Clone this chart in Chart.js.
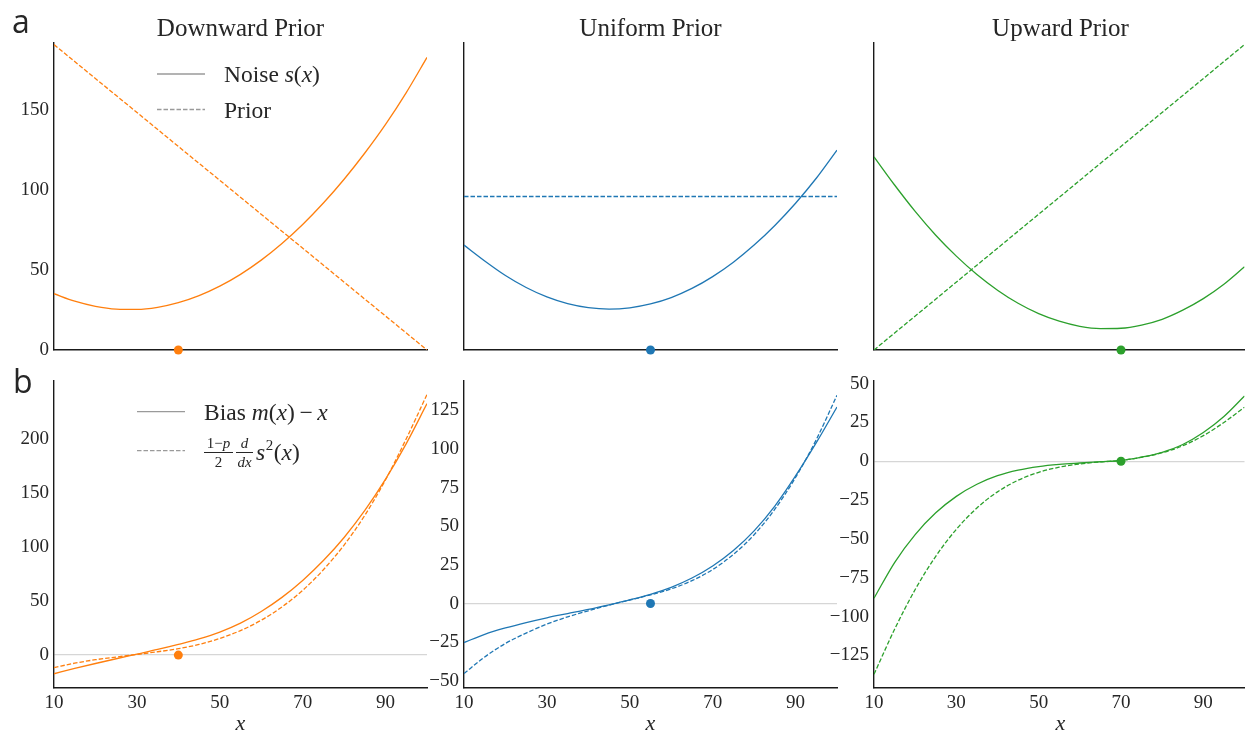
<!DOCTYPE html>
<html>
<head>
<meta charset="utf-8">
<title>Prior / noise / bias panels</title>
<script src="https://cdn.jsdelivr.net/npm/chart.js@4.4.1/dist/chart.umd.min.js"></script>
<style>
  html, body { margin: 0; padding: 0; background: #fff; }
  #wrap { position: relative; width: 1249px; height: 732px; overflow: hidden; }
  #wrap canvas { position: absolute; left: 0; top: 0; }
</style>
</head>
<body>
<div id="wrap">
  <canvas id="p0" width="1249" height="732"></canvas>
  <canvas id="p1" width="1249" height="732"></canvas>
  <canvas id="p2" width="1249" height="732"></canvas>
  <canvas id="p3" width="1249" height="732"></canvas>
  <canvas id="p4" width="1249" height="732"></canvas>
  <canvas id="p5" width="1249" height="732"></canvas>
</div>
<script>
/**************************************************
 * DATA
 **************************************************/
const xs = [10, 15, 20, 25, 30, 35, 40, 45, 50, 55, 60, 65, 70, 75, 80, 85, 90, 95, 100];

// row a: noise s(x)
const noiseDown    = [35.2, 30.5, 27.3, 25.6, 25.4, 26.7, 29.6, 34.0, 39.9, 47.3, 56.2, 66.6, 78.5, 91.9, 106.8, 123.2, 141.1, 161.0, 183.0];
const noiseUniform = [65.6, 55.7, 46.6, 39.1, 33.2, 29.0, 26.5, 25.6, 26.4, 28.8, 32.8, 38.5, 45.9, 54.9, 65.6, 77.9, 91.8, 107.4, 125.0];
const noiseUp      = [120.8, 103.2, 86.7, 71.8, 58.7, 47.2, 37.4, 29.2, 22.7, 18.0, 14.8, 13.4, 13.6, 15.6, 19.2, 24.9, 32.1, 41.1, 52.0];

// row a: priors (straight lines, end points)
const priorX       = [10, 100];
const priorDown    = [191, 0];
const priorUniform = [96, 96];
const priorUp      = [0, 191];

// row b: bias m(x) - x (solid) and (1-p)/2 d/dx s^2(x) (dashed)
const biasDown    = [-17.3, -12.4, -7.8, -3.4, 0.9, 5.2, 9.9, 15.0, 21.3, 29.6, 40.4, 53.5, 69.2, 87.6, 109.0, 134.0, 163.0, 196.0, 233.0];
const slopeDown   = [-11.6, -7.5, -4.3, -1.8, 0.6, 3.1, 5.9, 9.9, 15.4, 22.7, 32.3, 44.6, 60.0, 79.1, 102.0, 129.6, 162.5, 200.5, 241.5];
const biasUniform = [-25.2, -19.9, -15.8, -12.3, -9.2, -6.5, -3.8, -0.8, 2.4, 6.0, 10.5, 16.5, 24.3, 34.3, 47.0, 63.0, 82.5, 104.0, 127.1];
const slopeUniform= [-45.3, -34.5, -25.8, -19.1, -13.3, -8.6, -4.7, -1.0, 2.3, 5.6, 9.5, 14.8, 22.0, 31.8, 44.5, 61.0, 81.5, 106.0, 134.7];
const biasUp      = [-88.2, -65.2, -47.2, -33.2, -22.6, -14.8, -9.3, -5.7, -3.4, -2.0, -1.1, -0.3, 0.5, 2.7, 5.8, 10.8, 18.5, 28.8, 42.0];
const slopeUp     = [-137.2, -108.2, -82.6, -61.2, -43.8, -30.1, -19.7, -12.2, -7.1, -3.8, -1.7, -0.4, 0.5, 2.6, 5.5, 10.0, 16.5, 25.0, 34.8];

// markers on the x axis
const dotX = [40, 55, 70];

// axis ticks / ranges
const xTicks       = [10, 30, 50, 70, 90];
const yTicksTop    = [0, 50, 100, 150];
const yTicksDown   = [0, 50, 100, 150, 200];
const yTicksUni    = [-50, -25, 0, 25, 50, 75, 100, 125];
const yTicksUp     = [-125, -100, -75, -50, -25, 0, 25, 50];
const yRangeTop    = [0, 192];
const yRangeDown   = [-30.5, 254];
const yRangeUni    = [-54.6, 143.9];
const yRangeUp     = [-146, 51.7];

const titles = ["Downward Prior", "Uniform Prior", "Upward Prior"];

/**************************************************
 * LAYOUT / STYLE
 **************************************************/
const W = 1249, H = 732;
const colLeft = [54, 464, 874];
const colRight = [427, 837, 1247];
const rowTop = [43, 381];
const rowBottom = [350, 688];
const Y_AXIS_W = 54;   // room for y tick labels left of each panel
const X_AXIS_H = 30;   // room for x tick labels under the bottom row
const colors = ["#ff7f0e", "#1f77b4", "#2ca02c"];
const SERIF = "'Liberation Serif', 'Times New Roman', serif";
const SANS = "'Open Sans', 'DejaVu Sans', sans-serif";
const INK = "#262626";
const DASH = [4.5, 2];

function fmt(v) {
  return v < 0 ? "\u2212" + Math.abs(v) : String(v);
}

function curve(px, ys, color, dashed) {
  return {
    data: px.map((x, i) => ({ x: x, y: ys[i] })),
    borderColor: color,
    borderWidth: 1.3,
    borderDash: dashed ? DASH : [],
    pointRadius: 0,
    fill: false,
    cubicInterpolationMode: "monotone",
    order: 1
  };
}

function dot(x, color) {
  return {
    data: [{ x: x, y: 0 }],
    showLine: false,
    pointRadius: 4.5,
    pointBackgroundColor: color,
    pointBorderColor: color,
    pointBorderWidth: 0,
    clip: false,
    order: 0
  };
}

/**************************************************
 * TEXT HELPERS (titles, legends, panel letters)
 **************************************************/
function runs(ctx, x, y, parts) {
  ctx.textAlign = "left";
  parts.forEach(p => {
    ctx.font = p[1];
    ctx.fillText(p[0], x, y);
    x += ctx.measureText(p[0]).width;
  });
  return x;
}

function legendLine(ctx, x1, x2, y, dashed) {
  ctx.save();
  ctx.strokeStyle = "#9a9a9a";
  ctx.lineWidth = 1.3;
  ctx.setLineDash(dashed ? DASH : []);
  ctx.beginPath();
  ctx.moveTo(x1, y);
  ctx.lineTo(x2, y);
  ctx.stroke();
  ctx.restore();
}

function centered(ctx, text, x, y, font) {
  ctx.font = font;
  ctx.textAlign = "center";
  ctx.fillText(text, x, y);
}

const up = s => s + "px " + SERIF;
const it = s => "italic " + s + "px " + SERIF;

const decor = {
  p0(ctx) {
    ctx.font = "32px " + SANS;
    ctx.textAlign = "left";
    ctx.fillText("a", 12, 33);
    legendLine(ctx, 157, 205, 74, false);
    legendLine(ctx, 157, 205, 109.5, true);
    runs(ctx, 224, 82, [["Noise ", up(23.5)], ["s", it(23.5)], ["(", up(23.5)], ["x", it(23.5)], [")", up(23.5)]]);
    runs(ctx, 224, 118, [["Prior", up(23.5)]]);
  },
  p3(ctx) {
    ctx.font = "32px " + SANS;
    ctx.textAlign = "left";
    ctx.fillText("b", 13, 393);
    legendLine(ctx, 137, 185, 411.7, false);
    legendLine(ctx, 137, 185, 450.7, true);
    runs(ctx, 204, 420, [["Bias ", up(23.5)], ["m", it(23.5)], ["(", up(23.5)], ["x", it(23.5)], [")\u2009\u2212\u2009", up(23.5)], ["x", it(23.5)]]);
    // (1-p)/2 d/dx s^2(x)
    ctx.save();
    ctx.strokeStyle = INK;
    ctx.lineWidth = 1;
    ctx.beginPath();
    ctx.moveTo(204, 452.5); ctx.lineTo(233, 452.5);
    ctx.moveTo(236, 452.5); ctx.lineTo(253, 452.5);
    ctx.stroke();
    ctx.restore();
    ctx.font = up(15);
    const w1 = ctx.measureText("1\u2212").width;
    ctx.font = it(15);
    const w2 = ctx.measureText("p").width;
    runs(ctx, 218.5 - (w1 + w2) / 2, 448, [["1\u2212", up(15)], ["p", it(15)]]);
    centered(ctx, "2", 218.5, 467, up(15));
    centered(ctx, "d", 244.5, 448, it(15));
    centered(ctx, "dx", 244.5, 467, it(15));
    let x = runs(ctx, 256, 460, [["s", it(23.5)]]);
    x = runs(ctx, x + 0.5, 450, [["2", up(15)]]);
    runs(ctx, x + 0.5, 460, [["(", up(23.5)], ["x", it(23.5)], [")", up(23.5)]]);
  }
};

const panelText = {
  id: "panelText",
  afterDraw(chart) {
    const ctx = chart.ctx;
    const id = chart.canvas.id;
    const k = Number(id.slice(1));
    const row = k < 3 ? 0 : 1, col = k % 3;
    const cx = (colLeft[col] + colRight[col]) / 2;
    ctx.save();
    ctx.fillStyle = INK;
    ctx.textBaseline = "alphabetic";
    if (row === 0) centered(ctx, titles[col], cx, 36, up(25));
    if (row === 1) {
      ctx.textBaseline = "middle";
      centered(ctx, "x", cx, 724, it(22));
      ctx.textBaseline = "alphabetic";
    }
    if (decor[id]) decor[id](ctx);
    ctx.restore();
  }
};

/**************************************************
 * PANELS
 **************************************************/
function drawPanel(k, datasets, yRange, yTicks, showY) {
  const row = k < 3 ? 0 : 1, col = k % 3;
  const xH = row === 1 ? X_AXIS_H : 0;
  const ctx = document.getElementById("p" + k).getContext("2d");
  return new Chart(ctx, {
    type: "line",
    data: { datasets: datasets },
    plugins: [panelText],
    options: {
      responsive: false,
      animation: false,
      events: [],
      devicePixelRatio: 1,
      layout: {
        padding: {
          left: colLeft[col] - Y_AXIS_W,
          right: W - colRight[col],
          top: rowTop[row],
          bottom: H - rowBottom[row] - xH
        }
      },
      plugins: { legend: { display: false }, tooltip: { enabled: false }, title: { display: false } },
      scales: {
        x: {
          type: "linear",
          min: 10,
          max: 100,
          afterFit: s => { s.height = xH; },
          afterBuildTicks: s => { s.ticks = xTicks.map(v => ({ value: v })); },
          grid: { display: false, drawTicks: false },
          border: { display: true, color: "#1a1a1a", width: 1.4 },
          ticks: {
            display: row === 1,
            autoSkip: false,
            maxRotation: 0,
            padding: 4,
            color: INK,
            font: { family: SERIF, size: 19 },
            callback: v => fmt(v)
          }
        },
        y: {
          type: "linear",
          min: yRange[0],
          max: yRange[1],
          afterFit: s => { s.width = Y_AXIS_W; },
          afterBuildTicks: s => { s.ticks = yTicks.map(v => ({ value: v })); },
          grid: {
            display: row === 1,
            drawTicks: false,
            lineWidth: 1.2,
            color: c => (c.tick && c.tick.value === 0 ? "#d6d6d6" : "rgba(0,0,0,0)")
          },
          border: { display: true, color: "#1a1a1a", width: 1.4 },
          ticks: {
            display: showY,
            autoSkip: false,
            padding: 5,
            color: INK,
            font: { family: SERIF, size: 19 },
            callback: v => fmt(v)
          }
        }
      }
    }
  });
}

document.addEventListener("DOMContentLoaded", () => {
  // row a
  drawPanel(0, [dot(dotX[0], colors[0]), curve(xs, noiseDown, colors[0], false), curve(priorX, priorDown, colors[0], true)], yRangeTop, yTicksTop, true);
  drawPanel(1, [dot(dotX[1], colors[1]), curve(xs, noiseUniform, colors[1], false), curve(priorX, priorUniform, colors[1], true)], yRangeTop, yTicksTop, false);
  drawPanel(2, [dot(dotX[2], colors[2]), curve(xs, noiseUp, colors[2], false), curve(priorX, priorUp, colors[2], true)], yRangeTop, yTicksTop, false);
  // row b
  drawPanel(3, [dot(dotX[0], colors[0]), curve(xs, biasDown, colors[0], false), curve(xs, slopeDown, colors[0], true)], yRangeDown, yTicksDown, true);
  drawPanel(4, [dot(dotX[1], colors[1]), curve(xs, biasUniform, colors[1], false), curve(xs, slopeUniform, colors[1], true)], yRangeUni, yTicksUni, true);
  drawPanel(5, [dot(dotX[2], colors[2]), curve(xs, biasUp, colors[2], false), curve(xs, slopeUp, colors[2], true)], yRangeUp, yTicksUp, true);
});
</script>
</body>
</html>
